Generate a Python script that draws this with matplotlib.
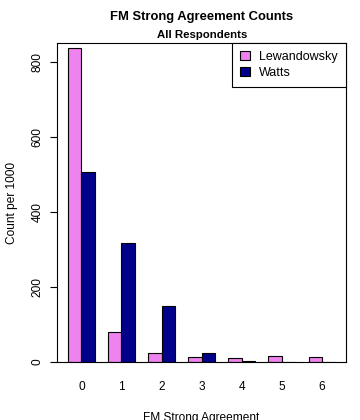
import numpy as np
import matplotlib
matplotlib.use('Agg')
import matplotlib.pyplot as plt

## data
categories = ['0', '1', '2', '3', '4', '5', '6']
lewandowsky = [838, 81, 23, 12, 10, 15, 12]
watts = [507, 317, 149, 24, 2, 0, 0]
series_labels = ['Lewandowsky', 'Watts']
series_colors = ['#EE82EE', '#00008B']

plt.rcParams['font.family'] = ['Liberation Sans', 'DejaVu Sans']
font_size = 8.6

fig = plt.figure(figsize=(3.6, 4.2), dpi=100)
ax = fig.add_axes([57.3/360., 1-362/420., (346-57.3)/360., (362-43)/420.])

## R style beside barplot: width 1, one bar gap between groups
group_start = np.arange(len(categories)) * 3
ax.bar(group_start + 1.5, lewandowsky, 1.0, color=series_colors[0],
       edgecolor='black', linewidth=0.8, label=series_labels[0])
ax.bar(group_start + 2.5, watts, 1.0, color=series_colors[1],
       edgecolor='black', linewidth=0.8, label=series_labels[1])

ax.set_xlim(0.2, 21.8)
ax.set_ylim(0, 850)
ax.set_xticks(group_start + 2)
ax.set_xticklabels(categories, fontsize=font_size)
ax.tick_params(axis='x', length=0, pad=14)
ax.set_yticks(np.arange(0, 801, 200))
ax.tick_params(axis='y', length=5, width=0.8, pad=5, labelsize=font_size)
for label in ax.get_yticklabels():
    label.set_rotation(90)
    label.set_va('center')
for sp in ax.spines.values():
    sp.set_linewidth(0.8)

ax.set_xlabel('FM Strong Agreement', fontsize=font_size, labelpad=13)
ax.set_ylabel('Count per 1000', fontsize=font_size, labelpad=10)

fig.text(201.7/360., 1-17/420., 'FM Strong Agreement Counts', fontsize=9.4,
         fontweight='bold', ha='center', va='center')
fig.text(201.7/360., 1-35/420., 'All Respondents', fontsize=8.2,
         fontweight='bold', ha='center', va='center')

leg = ax.legend(loc='upper right', borderaxespad=0, fontsize=9,
                handlelength=0.8, handleheight=0.7, handletextpad=0.75,
                borderpad=0.65, labelspacing=0.3, fancybox=False,
                framealpha=1, edgecolor='black')
leg.get_frame().set_linewidth(0.8)

plt.savefig('out.png', dpi=100)
